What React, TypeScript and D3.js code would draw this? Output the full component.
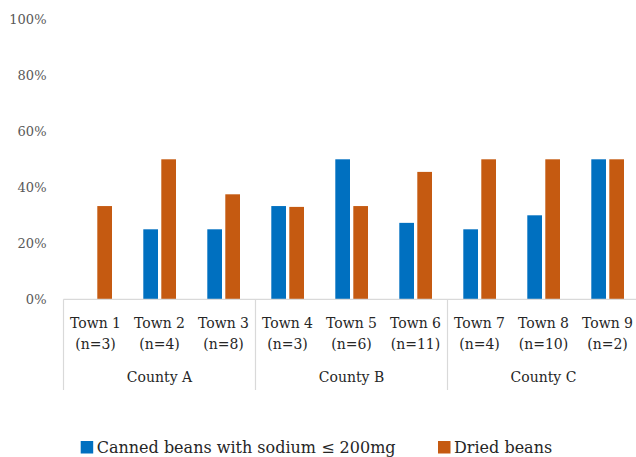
import React from "react";
import * as d3 from "d3";

const towns = ["Town 1", "Town 2", "Town 3", "Town 4", "Town 5", "Town 6", "Town 7", "Town 8", "Town 9"];
const sampleSizes = ["(n=3)", "(n=4)", "(n=8)", "(n=3)", "(n=6)", "(n=11)", "(n=4)", "(n=10)", "(n=2)"];
const counties = ["County A", "County B", "County C"];
const canned = [0, 25, 25, 33.3, 50, 27.3, 25, 30, 50];
const dried = [33.3, 50, 37.5, 33.0, 33.3, 45.5, 50, 50, 50];
const yTicks = [0, 20, 40, 60, 80, 100];
const seriesNames = ["Canned beans with sodium \u2264 200mg", "Dried beans"];
const seriesColors = ["#0070C0", "#C55A11"];

const W = 636;
const H = 457;
const FONT = "'DejaVu Serif', serif";

export default function App() {
  const x = d3.scaleBand<string>().domain(towns).range([63.5, 639.5]);
  const y = d3.scaleLinear().domain([0, 100]).range([299.3, 19.3]);
  const bw = 14.7;
  const series = [canned, dried];
  const offsets = [-16.2, 1.8];
  const axisY = y(0);
  const bottomY = 390;
  const countyX = d3.scaleBand<string>().domain(counties).range([63.5, 63.5 + x.bandwidth() * 9]);

  return (
    <svg width={W} height={H} style={{ position: "absolute", left: 0, top: 0, background: "#fff" }}>
      {yTicks.map((t) => (
        <text key={t} x={46.5} y={y(t)} dy="0.35em" textAnchor="end" fontFamily={FONT} fontSize={13} fill="#595959">
          {t}%
        </text>
      ))}
      {series.map((vals, si) =>
        vals.map((v, i) => {
          const cx = (x(towns[i]) as number) + x.bandwidth() / 2;
          return (
            <rect
              key={`${si}-${i}`}
              x={cx + offsets[si]}
              y={y(v)}
              width={bw}
              height={axisY - y(v)}
              fill={seriesColors[si]}
            />
          );
        })
      )}
      <line x1={63.5} x2={W} y1={axisY} y2={axisY} stroke="#d9d9d9" strokeWidth={1.2} />
      {[0, 1, 2].map((c) => {
        const xx = (countyX(counties[c]) as number);
        return <line key={c} x1={xx} x2={xx} y1={axisY} y2={bottomY} stroke="#d9d9d9" strokeWidth={1.2} />;
      })}
      {towns.map((t, i) => {
        const cx = (x(t) as number) + x.bandwidth() / 2;
        return (
          <g key={t} fontFamily={FONT} fontSize={14} fill="#262626" textAnchor="middle">
            <text x={cx} y={328}>{t}</text>
            <text x={cx} y={349}>{sampleSizes[i]}</text>
          </g>
        );
      })}
      {counties.map((c) => {
        const cx = (countyX(c) as number) + countyX.bandwidth() / 2;
        return (
          <text key={c} x={cx} y={382} textAnchor="middle" fontFamily={FONT} fontSize={14} fill="#262626">
            {c}
          </text>
        );
      })}
      {seriesNames.map((n, i) => {
        const lx = [80.7, 438][i];
        return (
          <g key={n}>
            <rect x={lx} y={441} width={12.5} height={12.5} fill={seriesColors[i]} />
            <text x={lx + 16} y={447.3} dy="0.35em" fontFamily={FONT} fontSize={16} fill="#262626">
              {n}
            </text>
          </g>
        );
      })}
    </svg>
  );
}
